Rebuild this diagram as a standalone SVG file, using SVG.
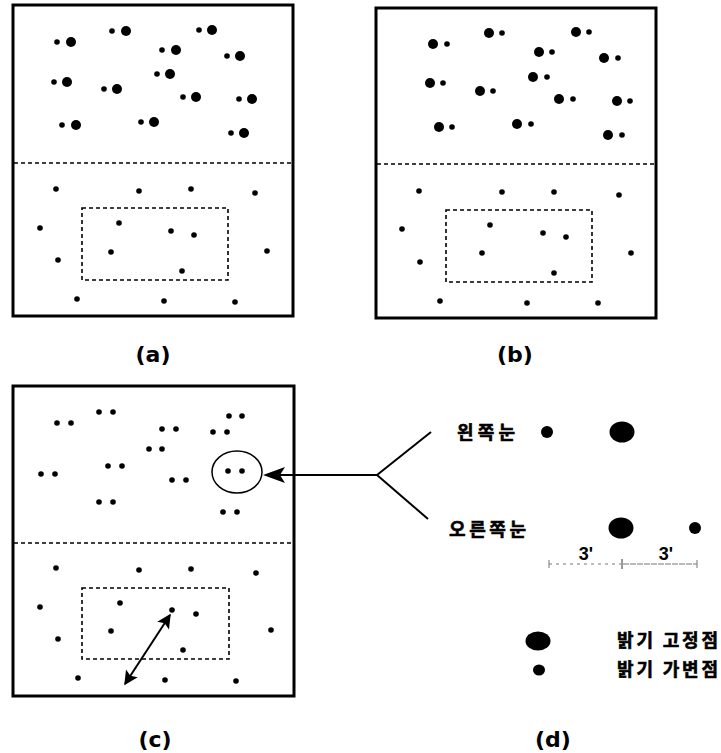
<svg xmlns="http://www.w3.org/2000/svg" width="721" height="753" viewBox="0 0 721 753">
<style>
.frame{fill:#fff;stroke:#000;stroke-width:3}
.dash{fill:none;stroke:#000;stroke-width:1.6;stroke-dasharray:4 3}
.lbl{font-family:"DejaVu Sans","Liberation Sans",sans-serif;font-weight:bold;font-size:22px;fill:#000}
.kr{font-family:"Noto Sans CJK KR","Noto Sans",sans-serif;font-weight:bold;font-size:18px;fill:#000;stroke:#000;stroke-width:0.6}
.num{font-family:"Liberation Sans",Arial,sans-serif;font-weight:bold;font-size:18px;fill:#000}
.s{fill:#000}
.line{stroke:#000;stroke-width:2;fill:none}
</style>
<defs>
<marker id="ah" viewBox="0 0 10 10" refX="9" refY="5" markerWidth="8" markerHeight="7" orient="auto-start-reverse" markerUnits="strokeWidth">
<path d="M0,0 L10,5 L0,10 L2,5 z" fill="#000"/>
</marker>
<circle id="b" r="5"/>
<circle id="m" r="2.8"/>
</defs>
<rect width="721" height="753" fill="#fff"/>

<g id="panel-a">
<rect class="frame" x="13" y="5" width="280" height="311"/>
<line class="dash" x1="14" y1="163" x2="292" y2="163"/>
<rect class="dash" x="82" y="208" width="146" height="72"/>
<g class="s">
<use href="#m" x="57" y="42"/><use href="#b" x="71" y="42"/>
<use href="#m" x="112" y="31"/><use href="#b" x="126" y="31"/>
<use href="#m" x="199" y="30"/><use href="#b" x="212" y="30"/>
<use href="#m" x="162" y="50"/><use href="#b" x="176" y="50"/>
<use href="#m" x="227" y="56"/><use href="#b" x="240" y="56"/>
<use href="#m" x="54" y="82"/><use href="#b" x="67" y="82"/>
<use href="#m" x="157" y="74"/><use href="#b" x="170" y="74"/>
<use href="#m" x="104" y="89"/><use href="#b" x="117" y="89"/>
<use href="#m" x="183" y="97"/><use href="#b" x="196" y="97"/>
<use href="#m" x="239" y="99"/><use href="#b" x="252" y="99"/>
<use href="#m" x="62" y="125"/><use href="#b" x="76" y="125"/>
<use href="#m" x="141" y="122"/><use href="#b" x="154" y="122"/>
<use href="#m" x="231" y="133"/><use href="#b" x="244" y="133"/>
</g>
<g class="s">
<use href="#m" x="56" y="189"/><use href="#m" x="139" y="191"/><use href="#m" x="191" y="189"/><use href="#m" x="255" y="193"/>
<use href="#m" x="40" y="228"/><use href="#m" x="119" y="223"/><use href="#m" x="171" y="231"/><use href="#m" x="194" y="235"/>
<use href="#m" x="111" y="252"/><use href="#m" x="267" y="251"/><use href="#m" x="58" y="260"/><use href="#m" x="182" y="271"/>
<use href="#m" x="77" y="299"/><use href="#m" x="164" y="301"/><use href="#m" x="235" y="302"/>
</g>
<text class="lbl" x="153" y="362" text-anchor="middle">(a)</text>
</g>

<g id="panel-b">
<rect class="frame" x="376" y="8" width="280" height="310"/>
<line class="dash" x1="377" y1="164" x2="655" y2="164"/>
<rect class="dash" x="446" y="210" width="146" height="72"/>
<g class="s">
<use href="#b" x="433" y="44"/><use href="#m" x="447" y="44"/>
<use href="#b" x="489" y="33"/><use href="#m" x="502" y="33"/>
<use href="#b" x="576" y="32"/><use href="#m" x="589" y="32"/>
<use href="#b" x="539" y="52"/><use href="#m" x="552" y="52"/>
<use href="#b" x="604" y="58"/><use href="#m" x="618" y="58"/>
<use href="#b" x="430" y="83"/><use href="#m" x="443" y="83"/>
<use href="#b" x="533" y="77"/><use href="#m" x="547" y="77"/>
<use href="#b" x="480" y="91"/><use href="#m" x="493" y="91"/>
<use href="#b" x="559" y="99"/><use href="#m" x="573" y="99"/>
<use href="#b" x="617" y="101"/><use href="#m" x="630" y="101"/>
<use href="#b" x="439" y="127"/><use href="#m" x="452" y="127"/>
<use href="#b" x="517" y="124"/><use href="#m" x="531" y="124"/>
<use href="#b" x="608" y="135"/><use href="#m" x="622" y="135"/>
</g>
<g class="s">
<use href="#m" x="419" y="191"/><use href="#m" x="502" y="192"/><use href="#m" x="554" y="192"/><use href="#m" x="619" y="195"/>
<use href="#m" x="402" y="229"/><use href="#m" x="490" y="225"/><use href="#m" x="543" y="233"/><use href="#m" x="566" y="237"/>
<use href="#m" x="482" y="253"/><use href="#m" x="631" y="253"/><use href="#m" x="420" y="262"/><use href="#m" x="554" y="273"/>
<use href="#m" x="440" y="301"/><use href="#m" x="527" y="303"/><use href="#m" x="598" y="303"/>
</g>
<text class="lbl" x="515" y="362" text-anchor="middle">(b)</text>
</g>

<g id="panel-c">
<rect class="frame" x="13" y="386" width="281" height="310"/>
<line class="dash" x1="14" y1="543" x2="293" y2="543"/>
<rect class="dash" x="82" y="588" width="147" height="71"/>
<g class="s">
<use href="#m" x="57" y="423"/><use href="#m" x="71" y="423"/>
<use href="#m" x="99" y="412"/><use href="#m" x="113" y="412"/>
<use href="#m" x="162" y="429"/><use href="#m" x="176" y="429"/>
<use href="#m" x="229" y="416"/><use href="#m" x="242" y="416"/>
<use href="#m" x="213" y="432"/><use href="#m" x="227" y="432"/>
<use href="#m" x="149" y="449"/><use href="#m" x="162" y="449"/>
<use href="#m" x="41" y="474"/><use href="#m" x="55" y="474"/>
<use href="#m" x="108" y="466"/><use href="#m" x="122" y="466"/>
<use href="#m" x="172" y="480"/><use href="#m" x="186" y="480"/>
<use href="#m" x="228" y="471"/><use href="#m" x="242" y="471"/>
<use href="#m" x="99" y="502"/><use href="#m" x="113" y="502"/>
<use href="#m" x="223" y="512"/><use href="#m" x="237" y="512"/>
</g>
<ellipse cx="237" cy="472" rx="25" ry="21" fill="none" stroke="#000" stroke-width="1.5"/>
<g class="s">
<use href="#m" x="56" y="568"/><use href="#m" x="139" y="570"/><use href="#m" x="191" y="569"/><use href="#m" x="256" y="573"/>
<use href="#m" x="40" y="607"/><use href="#m" x="120" y="603"/><use href="#m" x="172" y="610"/><use href="#m" x="196" y="614"/>
<use href="#m" x="111" y="631"/><use href="#m" x="271" y="630"/><use href="#m" x="58" y="639"/><use href="#m" x="183" y="650"/>
<use href="#m" x="78" y="678"/><use href="#m" x="165" y="680"/><use href="#m" x="236" y="681"/>
</g>
<text class="lbl" x="155" y="747" text-anchor="middle">(c)</text>
</g>

<g id="panel-d">
<text class="kr" x="457" y="439" textLength="58" lengthAdjust="spacing">왼쪽눈</text>
<text class="kr" x="449" y="536" textLength="77" lengthAdjust="spacing">오른쪽눈</text>
<circle cx="547" cy="432" r="6"/>
<ellipse cx="622" cy="432" rx="12.5" ry="10.5"/>
<ellipse cx="621" cy="528" rx="12.5" ry="10.5"/>
<circle cx="695" cy="528" r="6"/>
<text class="num" x="586" y="560" text-anchor="middle">3'</text>
<text class="num" x="666" y="560" text-anchor="middle">3'</text>
<g stroke="#777" stroke-width="1" fill="none">
<line x1="549" y1="564" x2="621" y2="564" stroke-dasharray="3 4"/>
<line x1="623" y1="564" x2="697" y2="564" stroke-dasharray="6 1"/>
<line x1="549" y1="560" x2="549" y2="568"/>
<line x1="622" y1="559" x2="622" y2="569" stroke="#333"/>
<line x1="697" y1="560" x2="697" y2="568"/>
</g>
<ellipse cx="538" cy="641" rx="12.5" ry="9.5"/>
<ellipse cx="539" cy="670" rx="6" ry="5.5"/>
<text class="kr" x="617" y="647" textLength="101" lengthAdjust="spacing">밝기 고정점</text>
<text class="kr" x="617" y="676" textLength="101" lengthAdjust="spacing">밝기 가변점</text>
<text class="lbl" x="553" y="747" text-anchor="middle">(d)</text>
</g>

<g id="connectors">
<line class="line" x1="377" y1="475" x2="280" y2="475"/>
<path d="M263,475 L285,467 L280,475 L285,483 Z" fill="#000"/>
<line class="line" x1="377" y1="475" x2="431" y2="432"/>
<line class="line" x1="377" y1="475" x2="428" y2="519"/>
<line x1="170" y1="615" x2="125" y2="684" stroke="#000" stroke-width="2" marker-start="url(#ah)" marker-end="url(#ah)"/>
</g>
</svg>
